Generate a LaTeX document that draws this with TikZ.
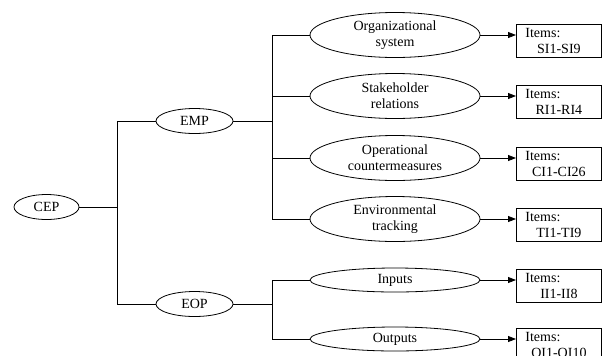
\documentclass[tikz,border=0pt]{standalone}
\usepackage{fontspec}
\setmainfont{Liberation Serif}
\usetikzlibrary{shapes.geometric,arrows.meta}
\begin{document}
\begin{tikzpicture}[x=1bp,y=-1bp,
  every node/.style={font=\rmfamily\fontsize{14bp}{16bp}\selectfont},
  oval/.style={draw,ellipse,inner sep=0pt,line width=0.8bp,align=center},
  small/.style={oval,minimum width=65bp,minimum height=25bp},
  mid/.style={oval,minimum width=77bp,minimum height=25bp},
  big/.style={oval,minimum width=170bp,minimum height=45bp},
  flat/.style={oval,minimum width=170bp,minimum height=24bp},
  itembox/.style={draw,rectangle,line width=0.8bp,anchor=north west,
    minimum width=85bp,minimum height=33bp,text width=67bp,inner xsep=9bp,inner ysep=2bp,align=left},
  link/.style={line width=0.8bp},
  arr/.style={line width=0.8bp,-{Triangle[length=8bp,width=6bp]}}]
\useasboundingbox (0,0) rectangle (608,355);
\clip (0,0) rectangle (608,355);
\node[small] (cep) at (46.5,207) {CEP};
\node[mid] (emp) at (194.5,121) {EMP};
\node[mid] (eop) at (194.5,304) {EOP};
\coordinate (j1) at (117,207);
\coordinate (j2) at (272,121);
\coordinate (j3) at (272,304);
\node[big] (org) at (395,35) {Organizational\\system};
\node[big] (stk) at (395,96) {Stakeholder\\relations};
\node[big] (opc) at (395,158) {Operational\\countermeasures};
\node[big] (env) at (395,219) {Environmental\\tracking};
\node[flat] (inp) at (395,280) {Inputs};
\node[flat] (out) at (395,339) {Outputs};
\node[itembox] (bs) at (516,24) {Items:\par{\centering SI1-SI9\par}};
\node[itembox] (br) at (516,85) {Items:\par{\centering RI1-RI4\par}};
\node[itembox] (bc) at (516,147) {Items:\par{\centering CI1-CI26\par}};
\node[itembox] (bt) at (516,208) {Items:\par{\centering TI1-TI9\par}};
\node[itembox] (bi) at (516,269) {Items:\par{\centering II1-II8\par}};
\node[itembox] (bo) at (516,328) {Items:\par{\centering OI1-OI10\par}};
\draw[link] (cep) -- (j1);
\draw[link] (j1) |- (emp);
\draw[link] (j1) |- (eop);
\draw[link] (emp) -- (j2);
\draw[link] (eop) -- (j3);
\draw[link] (j2) |- (org);
\draw[link] (j2) |- (stk);
\draw[link] (j2) |- (opc);
\draw[link] (j2) |- (env);
\draw[link] (j3) |- (inp);
\draw[link] (j3) |- (out);
\draw[arr] (org) -- (org.east -| bs.west);
\draw[arr] (stk) -- (stk.east -| br.west);
\draw[arr] (opc) -- (opc.east -| bc.west);
\draw[arr] (env) -- (env.east -| bt.west);
\draw[arr] (inp) -- (inp.east -| bi.west);
\draw[arr] (out) -- (out.east -| bo.west);
\end{tikzpicture}
\end{document}
